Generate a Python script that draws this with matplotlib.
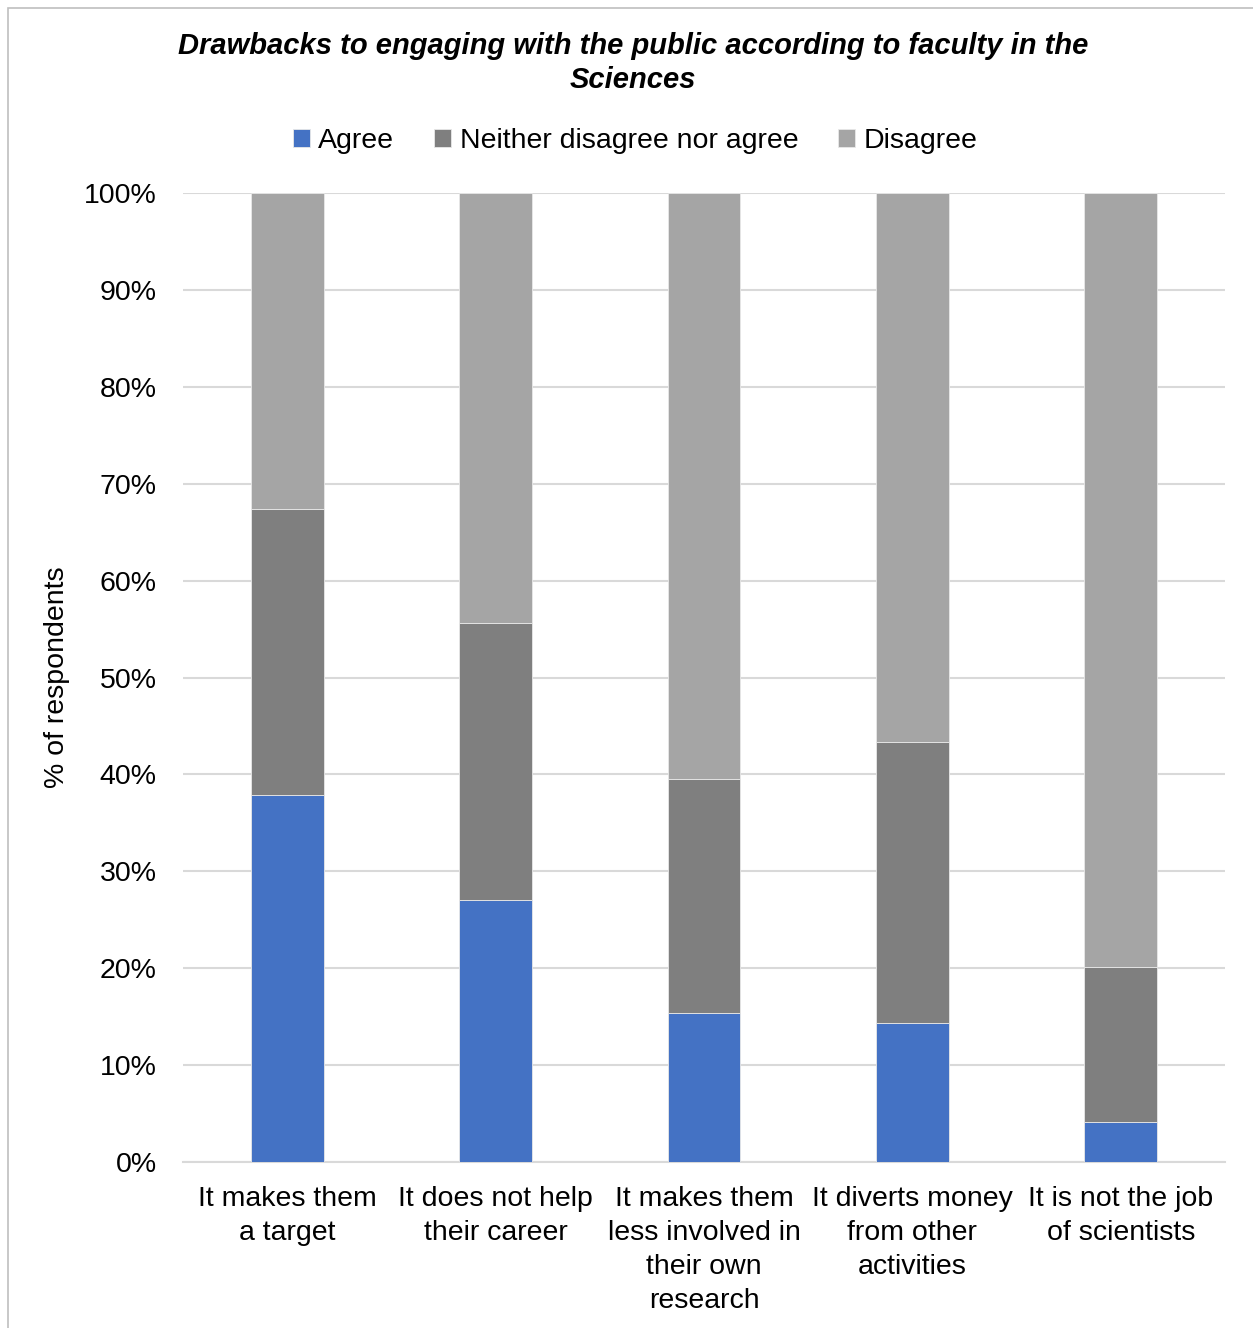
import numpy as np
import matplotlib.pyplot as plt
from matplotlib.patches import Rectangle
from matplotlib.ticker import PercentFormatter

plt.rcParams['font.family'] = ['Liberation Sans', 'DejaVu Sans']

# survey results, share of respondents (%)
categories = ["It makes them\na target", "It does not help\ntheir career",
              "It makes them\nless involved in\ntheir own\nresearch",
              "It diverts money\nfrom other\nactivities", "It is not the job\nof scientists"]
agree = [37.9, 27.0, 15.4, 14.3, 4.1]
neither = [29.5, 28.6, 24.1, 29.0, 16.0]
disagree = [32.6, 44.4, 60.5, 56.7, 79.9]

series = [("Agree", agree, "#4472C4"),
          ("Neither disagree nor agree", neither, "#7F7F7F"),
          ("Disagree", disagree, "#A5A5A5")]

W, H = 1253, 1328
fs = 20.5
fig = plt.figure(figsize=(W / 100, H / 100), dpi=100)
ax = fig.add_axes([183 / W, 1 - 1162 / H, (1225 - 183) / W, (1162 - 193) / H])

# chart frame
fig.patches.append(Rectangle((8 / W, -0.1), 1.2, 1 - 8 / H + 0.1, transform=fig.transFigure,
                             fill=False, edgecolor="#BFBFBF", linewidth=1.2))

x = np.arange(len(categories))
bottom = np.zeros(len(categories))
for name, vals, col in series:
    ax.bar(x, vals, 0.35, bottom=bottom, color=col, label=name,
           edgecolor="#e8e8e8", linewidth=0.6, zorder=3)
    bottom += np.array(vals)

ax.set_xlim(-0.5, len(categories) - 0.5)
ax.set_ylim(0, 100)
ax.set_yticks(np.arange(0, 101, 10))
ax.yaxis.set_major_formatter(PercentFormatter(decimals=0))
ax.grid(axis="y", color="#D9D9D9", linewidth=1.5, zorder=0)
for s in ["top", "right", "left"]:
    ax.spines[s].set_visible(False)
ax.spines["bottom"].set_color("#D9D9D9")
ax.spines["bottom"].set_linewidth(1.5)
ax.tick_params(length=0, labelsize=fs, colors="black")
ax.tick_params(axis="y", pad=19)
ax.tick_params(axis="x", pad=17)
ax.set_xticks(x)
ax.set_xticklabels(categories, linespacing=1.4)
ax.set_ylabel("% of respondents", fontsize=fs, labelpad=10)

fig.text(0.505, 1 - 63 / H, "Drawbacks to engaging with the public according to faculty in the\nSciences",
         ha="center", va="center", fontsize=21, fontweight="bold", fontstyle="italic",
         linespacing=1.25)

fig.legend(loc="center", bbox_to_anchor=(0.507, 1 - 141 / H), ncol=3, frameon=False,
           fontsize=fs, handlelength=0.6, handleheight=0.6, handletextpad=0.3,
           columnspacing=1.4)

fig.savefig("out.png", dpi=100)
